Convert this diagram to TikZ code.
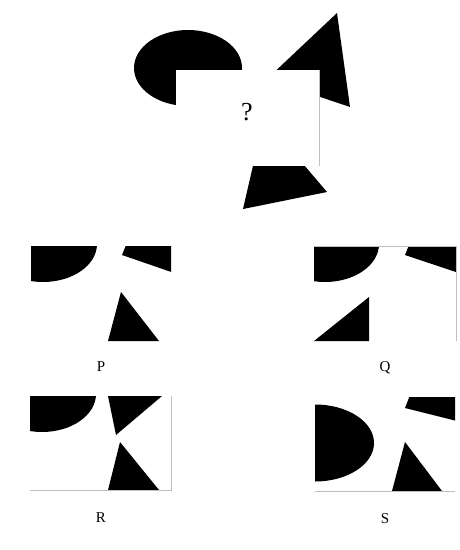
\documentclass[tikz,border=0pt]{standalone}
\usepackage{fontspec}
\setmainfont{Liberation Serif}
\usetikzlibrary{positioning}

\begin{document}
\begin{tikzpicture}[x=1pt, y=-1pt]

\tikzstyle{blob} = [fill=black, draw=none]
\tikzstyle{hole} = [fill=white, draw=none]
\tikzstyle{edge} = [draw=black!25, line width=0.6pt]
\tikzstyle{tag} = [font=\fontsize{15}{15}\selectfont, inner sep=0]

\useasboundingbox (0,0) rectangle (460,550);

% the question
\fill [blob] (188,68) ellipse [x radius=54, y radius=38];
\fill [blob] (337,13) -- (350,107) -- (267,79) -- cycle;
\fill [blob] (264,118) -- (327,192) -- (243,209) -- cycle;
\fill [hole] (176,70) rectangle (319,166);
\draw [edge] (319,70) -- (319,166);
\node [font=\fontsize{26}{26}\selectfont, inner sep=0] (ask) at (247,112) {?};

% P
\begin{scope}
\clip (31,246) rectangle (171,341);
\fill [blob] (43,244) ellipse [x radius=54, y radius=38];
\fill [blob] (122,255) -- (128,240) -- (180,240) -- (180,275) -- cycle;
\fill [blob] (121,292) -- (159,341) -- (108,341) -- cycle;
\end{scope}
\coordinate (p) at (101,341);
\node [tag, below=20pt of p] (labp) {P};

% Q
\begin{scope}
\clip (314,246) rectangle (456,341);
\fill [blob] (325,244) ellipse [x radius=54, y radius=38];
\fill [blob] (405,255) -- (411,240) -- (465,240) -- (465,275) -- cycle;
\fill [blob] (369,297) -- (369,341) -- (314,341) -- cycle;
\end{scope}
\draw [edge] (314,246) -- (456,246) -- (456,341);
\coordinate (q) at (385,341);
\node [tag, below=20pt of q] (labq) {Q};

% R
\begin{scope}
\clip (30,396) rectangle (171,490);
\fill [blob] (42,394) ellipse [x radius=54, y radius=38];
\fill [blob] (108,396) -- (162,396) -- (116,435) -- cycle;
\fill [blob] (120,442) -- (159,490) -- (108,490) -- cycle;
\end{scope}
\draw [edge] (30,490) -- (171,490) -- (171,396);
\coordinate (r) at (101,490);
\node [tag, below=22pt of r] (labr) {R};

% S
\begin{scope}
\clip (315,397) rectangle (455,491);
\fill [blob] (315,443) ellipse [x radius=59, y radius=38.5];
\fill [blob] (405,408) -- (412,390) -- (465,390) -- (465,423) -- cycle;
\fill [blob] (405,442) -- (442,491) -- (392,491) -- cycle;
\end{scope}
\draw [edge] (315,491) -- (455,491);
\coordinate (s) at (385,491);
\node [tag, below=22pt of s] (labs) {S};

\end{tikzpicture}
\end{document}
